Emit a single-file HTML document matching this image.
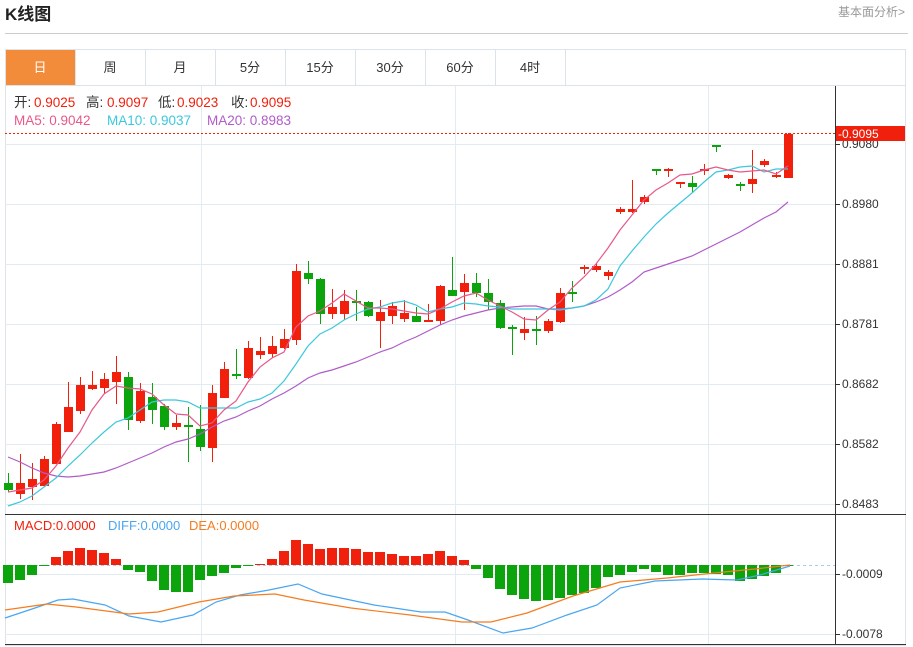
<!DOCTYPE html>
<html><head><meta charset="utf-8"><style>
body{margin:0;background:#fff;width:913px;height:647px;overflow:hidden;font-family:"Liberation Sans","Noto Sans CJK SC",sans-serif}
svg{display:block}
</style></head><body>
<svg id="s" width="913" height="647" xmlns="http://www.w3.org/2000/svg" font-family="Liberation Sans, Noto Sans CJK SC, sans-serif">
<text x="5" y="20" font-size="17" font-weight="bold" fill="#222">K线图</text>
<text x="905" y="16" font-size="12" fill="#999" text-anchor="end">基本面分析&gt;</text>
<line x1="5" y1="33.5" x2="908" y2="33.5" stroke="#ccc"/>
<rect x="5.5" y="49.5" width="900" height="596" fill="none" stroke="#dde3ea"/>
<line x1="5" y1="85.5" x2="906" y2="85.5" stroke="#dde3ea"/>
<rect x="6" y="50" width="69" height="35" fill="#f28b3a"/>
<g font-size="13" fill="#333" text-anchor="middle">
<text x="40" y="72" fill="#fff">日</text><text x="110" y="72">周</text><text x="180" y="72">月</text><text x="250" y="72">5分</text><text x="320" y="72">15分</text><text x="390" y="72">30分</text><text x="460" y="72">60分</text><text x="530" y="72">4时</text>
</g>
<g stroke="#dde3ea"><line x1="75.5" y1="50" x2="75.5" y2="85"/><line x1="145.5" y1="50" x2="145.5" y2="85"/><line x1="215.5" y1="50" x2="215.5" y2="85"/><line x1="285.5" y1="50" x2="285.5" y2="85"/><line x1="355.5" y1="50" x2="355.5" y2="85"/><line x1="425.5" y1="50" x2="425.5" y2="85"/><line x1="495.5" y1="50" x2="495.5" y2="85"/><line x1="565.5" y1="50" x2="565.5" y2="85"/></g>
<g id="grid" stroke="#e3ebf2"></g>
<g id="plot"></g>
<line x1="835.5" y1="86" x2="835.5" y2="645" stroke="#333"/>
<line x1="5" y1="514.5" x2="906" y2="514.5" stroke="#333"/>
<line x1="5" y1="644.5" x2="906" y2="644.5" stroke="#333"/>
<line x1="5" y1="133.5" x2="835" y2="133.5" stroke="#f0200c" stroke-dasharray="2,2"/>
<g id="axis" font-size="12" fill="#333"></g>
<rect x="836" y="126" width="69" height="15" fill="#f0200c"/>
<text x="838" y="138" font-size="12" fill="#fff">-0.9095</text>
<g font-size="13.5">
<text x="14" y="107" fill="#333">开:</text><text x="34" y="107" fill="#f0200c">0.9025</text>
<text x="86" y="107" fill="#333">高:</text><text x="107" y="107" fill="#f0200c">0.9097</text>
<text x="158" y="107" fill="#333">低:</text><text x="177" y="107" fill="#f0200c">0.9023</text>
<text x="231" y="107" fill="#333">收:</text><text x="250" y="107" fill="#f0200c">0.9095</text>
<text x="14" y="125" fill="#e8588a">MA5: 0.9042</text>
<text x="107" y="125" fill="#3cc8dc">MA10: 0.9037</text>
<text x="207" y="125" fill="#b05cc8">MA20: 0.8983</text>
</g>
<g font-size="13">
<text x="14" y="530" fill="#f0200c">MACD:0.0000</text>
<text x="108" y="530" fill="#4aa6f0">DIFF:0.0000</text>
<text x="189" y="530" fill="#f57c1f">DEA:0.0000</text>
</g>
</svg>
<script>
const NS="http://www.w3.org/2000/svg";
function el(p,t,a){const e=document.createElementNS(NS,t);for(const k in a)e.setAttribute(k,a[k]);p.appendChild(e);return e;}
const grid=document.getElementById('grid'),plot=document.getElementById('plot'),axis=document.getElementById('axis');
[144,204,264,324,384,444,504,574,634].forEach(y=>el(grid,'line',{x1:5,x2:835,y1:y+.5,y2:y+.5}));
[201,455,708].forEach(x=>el(grid,'line',{x1:x+.5,x2:x+.5,y1:86,y2:644}));
[[144,'0.9080'],[204,'0.8980'],[264,'0.8881'],[324,'0.8781'],[384,'0.8682'],[444,'0.8582'],[504,'0.8483'],[574,'-0.0009'],[634,'-0.0078']].forEach(([y,t])=>{
 el(axis,'line',{x1:835,x2:840,y1:y+.5,y2:y+.5,stroke:'#333'});const tx=el(axis,'text',{x:842,y:y+4});tx.textContent=t;});
el(plot,'line',{x1:5,x2:835,y1:565.5,y2:565.5,stroke:'#9cd3ea','stroke-dasharray':'3,3'});
const C=[['g',483,490,473,492],['r',483,494,454,499],['r',479,487,463,500],['r',459,486,456,487],['r',424,464,422,464],['r',407,432,382,432],['r',385,411,377,414],['r',385,389,371,390],['r',379,388,373,394],['r',372,382,356,404],['g',377,420,372,430],['r',391,421,383,423],['g',397,410,383,424],['g',406,427,404,430],['r',423,427,415,430],['g',425,427,407,462],['g',429,447,405,451],['r',393,448,385,462],['r',369,398,362,398],['g',374,376,349,379],['r',348,378,341,379],['r',351,355,337,359],['r',346,354,336,358],['r',339,348,329,349],['r',271,340,264,345],['g',273,279,261,284],['g',279,314,278,324],['r',307,314,289,319],['r',301,314,290,320],['g',301,303,290,321],['g',302,316,301,317],['r',312,321,300,348],['r',306,316,302,324],['r',313,319,300,322],['g',316,322,307,322],['r',320,322,304,322],['r',286,321,285,325],['g',290,296,257,296],['r',283,292,274,310],['g',283,293,273,297],['g',293,302,279,310],['g',303,328,300,329],['g',327,329,325,355],['r',329,333,317,340],['g',329,330,316,345],['r',321,331,319,333],['r',293,322,288,323],['g',292,293,281,302],['r',267,269,265,274],['r',266,270,263,272],['r',272,276,270,280],['r',209,212,207,214],['r',209,212,180,213],['r',197,202,195,204],['g',169,171,169,175],['r',169,170,168,177],['r',182,184,182,188],['g',183,187,176,192],['r',169,170,164,175],['g',145,147,145,152],['r',175,178,174,179],['g',184,185,182,191],['r',179,184,150,193],['r',161,165,159,167],['r',175,177,172,178],['r',134,178,133,178]];
C.forEach((c,i)=>{const x=8+12*i,col=c[0]=='r'?'#f0200c':'#0ca40c';
 el(plot,'line',{x1:x+.5,x2:x+.5,y1:c[3],y2:c[4],stroke:col});
 el(plot,'rect',{x:x-4,y:c[1],width:9,height:Math.max(2,c[2]-c[1]),fill:col});});
function pl(pts,col){el(plot,'polyline',{points:pts.map(p=>p.join(',')).join(' '),fill:'none',stroke:col,'stroke-width':1.2});}
const ma5=[492,490,488,480,466,448,432,410,394,386,388,389,394,405,414,415,426,423,410,401,382,367,358,352,327,316,311,303,294,301,308,308,309,311,313,314,309,302,296,293,300,306,312,319,320,310,302,288,277,264,248,230,215,200,190,183,175,174,170,167,170,172,171,170,174,166];
const ma10=[506,502,496,487,478,466,455,443,432,422,418,410,402,400,400,402,408,408,408,408,402,399,393,381,364,346,334,328,320,314,309,307,303,301,305,312,309,307,303,304,306,307,309,309,309,309,310,308,306,300,289,266,251,237,224,213,203,193,182,172,170,167,166,172,169,169];
const ma20=[457,462,468,473,476,477,476,474,472,468,463,458,453,447,442,439,434,427,421,417,411,406,399,393,386,378,373,370,366,362,357,352,348,342,337,331,325,320,316,313,310,308,307,306,306,309,309,308,306,302,297,290,282,272,268,264,260,256,250,244,238,232,225,218,212,202];
pl(ma20.map((y,i)=>[8+12*i,y]),'#b05cc8');pl(ma10.map((y,i)=>[8+12*i,y]),'#3cc8dc');pl(ma5.map((y,i)=>[8+12*i,y]),'#e8588a');
const M=[583,580,575,566,557,551,548,550,553,559,570,572,581,590,592,592,580,576,573,568,566,564,559,551,540,544,549,548,548,549,552,552,554,556,556,554,551,556,560,569,578,589,595,599,601,600,598,595,593,588,577,575,572,569,572,575,575,573,573,574,575,581,579,576,573,566];
M.forEach((y,i)=>{const x=8+12*i;const up=y<565;el(plot,'rect',{x:x-5,y:up?y:565,width:10,height:Math.max(1,Math.abs(y-565)),fill:up?'#f0200c':'#0ca40c'});});
pl([[5,618],[35,608],[58,600],[73,599],[105,605],[129,616],[161,622],[193,615],[216,602],[240,595],[269,590],[298,584],[322,594],[374,605],[421,612],[445,612],[468,620],[503,633],[532,628],[567,615],[597,605],[620,588],[655,581],[702,579],[737,580],[760,575],[790,566]],'#4aa6f0');
pl([[5,610],[47,604],[76,607],[129,614],[158,612],[199,602],[234,596],[275,594],[304,600],[351,608],[410,615],[462,622],[491,622],[527,613],[573,596],[620,582],[667,578],[714,573],[755,569],[790,565]],'#f57c1f');
</script>
</body></html>
